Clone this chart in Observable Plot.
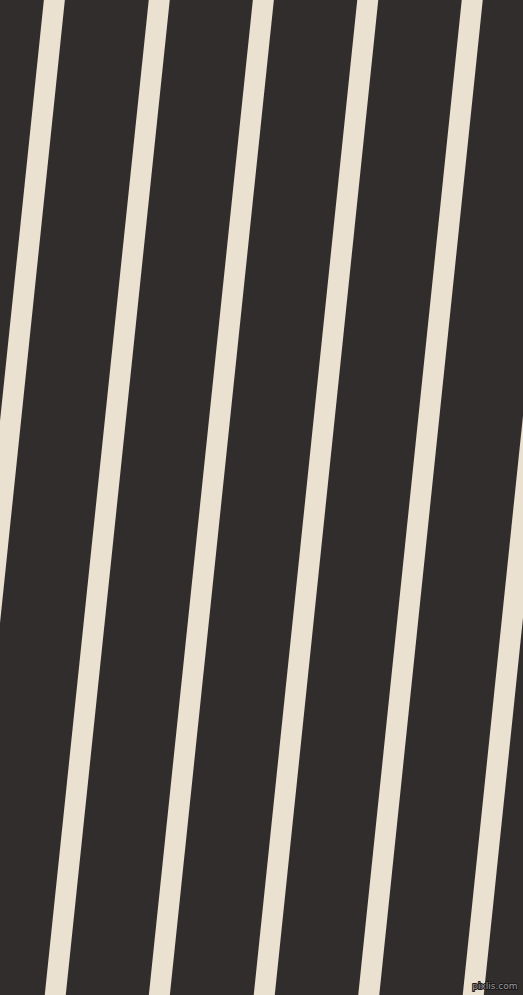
<!DOCTYPE html>
<html>
<head>
<meta charset="utf-8">
<script src="https://cdn.jsdelivr.net/npm/d3@7"></script>
<script src="https://cdn.jsdelivr.net/npm/@observablehq/plot@0.6"></script>
<style>
  html, body { margin: 0; padding: 0; background: #312d2d; overflow: hidden; }
  #chart svg { display: block; }
</style>
</head>
<body>
<div id="chart"></div>
<script>
// Stripe centre x positions at the top edge (y = 0) and bottom edge (y = 995)
const stripeTopX = [53.8, 158.7, 262.8, 367.2, 471.7, 576.2];
const stripeBottomX = [-49.8, 54.7, 158.8, 263.7, 368.2, 472.7];
const watermark = ["pixlis.com"];

const W = 523, H = 995;
const stripes = stripeTopX.map((t, i) => ({x1: t, x2: stripeBottomX[i]}));
// extend a little beyond the frame so the caps are clipped away
const ext = 20;
const rows = stripes.map(d => {
  const s = (d.x2 - d.x1) / H;
  return {x1: d.x1 - s * ext, y1: -ext, x2: d.x2 + s * ext, y2: H + ext};
});

const plot = Plot.plot({
  width: W,
  height: H,
  margin: 0,
  style: {background: "#312d2d", overflow: "hidden"},
  x: {domain: [0, W], range: [0, W], axis: null},
  y: {domain: [0, H], range: [0, H], axis: null},
  marks: [
    Plot.link(rows, {
      x1: "x1", y1: "y1", x2: "x2", y2: "y2",
      stroke: "#ebe1d0", strokeWidth: 20.9, strokeLinecap: "butt",
      clip: true
    }),
    Plot.text(watermark, {
      text: d => d,
      frameAnchor: "bottom-right",
      dx: -6, dy: -7,
      fontSize: 9,
      fontFamily: "DejaVu Sans",
      fill: "#9a9a9a",
      stroke: "#1a1818",
      strokeWidth: 2,
      textAnchor: "end"
    })
  ]
});
document.getElementById("chart").appendChild(plot);
</script>
</body>
</html>
